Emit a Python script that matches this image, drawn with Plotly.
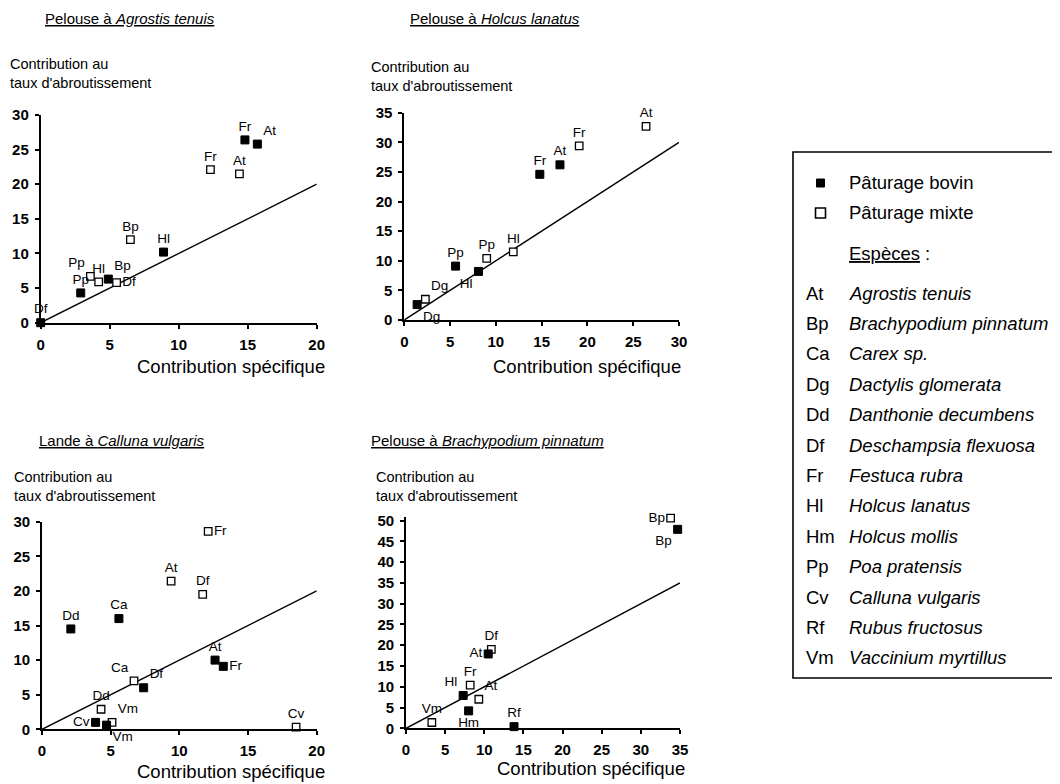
import plotly.graph_objects as go

# The page body adds an 8 px margin, so the figure is drawn 8 px in from the
# window's top-left corner; sizes and positions below account for it.
WIN_W, WIN_H = 1060, 784
OFF = 8
W, H = WIN_W - OFF, WIN_H - OFF

# ---------------- Data ----------------
# Panel 1: Pelouse à Agrostis tenuis
p1_bovin_codes = ["Fr", "At", "Hl", "Bp", "Pp", "Df"]
p1_bovin_x = [14.8, 15.7, 8.9, 4.9, 2.9, 0.0]
p1_bovin_y = [26.4, 25.8, 10.2, 6.3, 4.3, 0.0]
p1_mixte_codes = ["Fr", "At", "Bp", "Pp", "Hl", "Df"]
p1_mixte_x = [12.3, 14.4, 6.5, 3.6, 4.2, 5.5]
p1_mixte_y = [22.1, 21.5, 12.0, 6.7, 5.9, 5.8]

# Panel 2: Pelouse à Holcus lanatus
p2_bovin_codes = ["Fr", "At", "Pp", "Hl", "Dg"]
p2_bovin_x = [14.8, 17.0, 5.6, 8.1, 1.4]
p2_bovin_y = [24.6, 26.2, 9.1, 8.2, 2.6]
p2_mixte_codes = ["At", "Fr", "Hl", "Pp", "Dg"]
p2_mixte_x = [26.4, 19.1, 11.9, 9.0, 2.3]
p2_mixte_y = [32.7, 29.4, 11.5, 10.4, 3.5]

# Panel 3: Lande à Calluna vulgaris
p3_bovin_codes = ["Dd", "Ca", "At", "Fr", "Df", "Cv", "Vm"]
p3_bovin_x = [2.1, 5.6, 12.6, 13.2, 7.4, 3.9, 4.7]
p3_bovin_y = [14.5, 16.0, 10.0, 9.1, 6.0, 1.0, 0.6]
p3_mixte_codes = ["Fr", "At", "Df", "Ca", "Dd", "Vm", "Cv"]
p3_mixte_x = [12.1, 9.4, 11.7, 6.7, 4.3, 5.1, 18.5]
p3_mixte_y = [28.6, 21.4, 19.5, 7.0, 2.9, 1.0, 0.3]

# Panel 4: Pelouse à Brachypodium pinnatum
p4_bovin_codes = ["Bp", "At", "Hl", "Hm", "Rf"]
p4_bovin_x = [34.7, 10.5, 7.3, 8.0, 13.8]
p4_bovin_y = [47.9, 17.9, 7.9, 4.2, 0.4]
p4_mixte_codes = ["Bp", "Df", "Fr", "At", "Vm"]
p4_mixte_x = [33.8, 10.9, 8.2, 9.3, 3.3]
p4_mixte_y = [50.6, 19.0, 10.4, 7.0, 1.4]

# 1:1 reference lines (end point of each diagonal)
p1_line_end = 20
p2_line_end = 30
p3_line_end = 20
p4_line_end = 35

panel_titles = [
    "<u>Pelouse à <i>Agrostis tenuis</i></u>",
    "<u>Pelouse à <i>Holcus lanatus</i></u>",
    "<u>Lande à <i>Calluna vulgaris</i></u>",
    "<u>Pelouse à <i>Brachypodium pinnatum</i></u>",
]
y_title = "Contribution au<br>taux d'abroutissement"
x_title = "Contribution spécifique"

legend_groups = ["Pâturage bovin", "Pâturage mixte"]
species_header = "<u>Espèces</u> :"
species_codes = ["At", "Bp", "Ca", "Dg", "Dd", "Df", "Fr", "Hl", "Hm", "Pp", "Cv", "Rf", "Vm"]
species_names = ["Agrostis tenuis", "Brachypodium pinnatum", "Carex sp.", "Dactylis glomerata",
                 "Danthonie decumbens", "Deschampsia flexuosa", "Festuca rubra", "Holcus lanatus",
                 "Holcus mollis", "Poa pratensis", "Calluna vulgaris", "Rubus fructosus",
                 "Vaccinium myrtillus"]

# ---------------- Styles / layout ----------------
FONT = "Liberation Sans, Arial, sans-serif"
BG = "white"

p1_bovin_pos = ["top center", "top right", "top center", "top right", "top center", "top center"]
p1_mixte_pos = ["top center", "top center", "top center", "top left", "top center", "middle right"]
p2_bovin_pos = ["top center", "top center", "top center", "bottom left", "bottom right"]
p2_mixte_pos = ["top center", "top center", "top center", "top center", "top right"]
p3_bovin_pos = ["top center", "top center", "top center", "middle right", "top right", "middle left", "bottom right"]
p3_mixte_pos = ["middle right", "top center", "top center", "top left", "top center", "top right", "top center"]
p4_bovin_pos = ["bottom left", "middle left", "top left", "bottom center", "top center"]
p4_mixte_pos = ["middle left", "top center", "top center", "top right", "top center"]


def px_x(p):
    """window pixel x -> paper fraction"""
    return (p - OFF) / W


def px_y(p):
    """window pixel y (from top) -> paper fraction"""
    return 1 - (p - OFF) / H


# xd: window pixel x of range start/end; yd: window pixel y of range start/end
panels = [
    dict(ax="", xr=[0, 20], yr=[0, 30], xd=[40.7, 316.7], yd=[322.7, 115.0],
         bc=p1_bovin_codes, bx=p1_bovin_x, by=p1_bovin_y, bp=p1_bovin_pos,
         mc=p1_mixte_codes, mx=p1_mixte_x, my=p1_mixte_y, mp=p1_mixte_pos, le=p1_line_end),
    dict(ax="2", xr=[0, 30], yr=[0, 35], xd=[404.3, 679.0], yd=[320.0, 112.7],
         bc=p2_bovin_codes, bx=p2_bovin_x, by=p2_bovin_y, bp=p2_bovin_pos,
         mc=p2_mixte_codes, mx=p2_mixte_x, my=p2_mixte_y, mp=p2_mixte_pos, le=p2_line_end),
    dict(ax="3", xr=[0, 20], yr=[0, 30], xd=[42.0, 316.7], yd=[729.3, 521.7],
         bc=p3_bovin_codes, bx=p3_bovin_x, by=p3_bovin_y, bp=p3_bovin_pos,
         mc=p3_mixte_codes, mx=p3_mixte_x, my=p3_mixte_y, mp=p3_mixte_pos, le=p3_line_end),
    dict(ax="4", xr=[0, 35], yr=[0, 51], xd=[406.0, 680.0], yd=[728.3, 516.5],
         bc=p4_bovin_codes, bx=p4_bovin_x, by=p4_bovin_y, bp=p4_bovin_pos,
         mc=p4_mixte_codes, mx=p4_mixte_x, my=p4_mixte_y, mp=p4_mixte_pos, le=p4_line_end),
]

fig = go.Figure()
layout_axes = {}

for p in panels:
    xa = "x" + p["ax"]
    ya = "y" + p["ax"]
    # diagonal 1:1 line
    fig.add_trace(go.Scatter(x=[0, p["le"]], y=[0, p["le"]], mode="lines",
                             line=dict(color="black", width=1.4),
                             xaxis=xa, yaxis=ya, showlegend=False, hoverinfo="skip",
                             cliponaxis=False))
    # mixte (open squares)
    fig.add_trace(go.Scatter(x=p["mx"], y=p["my"], text=p["mc"], mode="markers+text",
                             textposition=p["mp"],
                             textfont=dict(family=FONT, size=13.5, color="black"),
                             marker=dict(symbol="square", size=7.5, color=BG,
                                         line=dict(color="black", width=1.3)),
                             xaxis=xa, yaxis=ya, showlegend=False, cliponaxis=False,
                             name=legend_groups[1]))
    # bovin (filled squares)
    fig.add_trace(go.Scatter(x=p["bx"], y=p["by"], text=p["bc"], mode="markers+text",
                             textposition=p["bp"],
                             textfont=dict(family=FONT, size=13.5, color="black"),
                             marker=dict(symbol="square", size=8, color="black",
                                         line=dict(color="black", width=1)),
                             xaxis=xa, yaxis=ya, showlegend=False, cliponaxis=False,
                             name=legend_groups[0]))

    axis_common = dict(showline=True, linecolor="black", linewidth=1.8,
                       ticks="outside", ticklen=4, tickwidth=1.5, tickcolor="black",
                       showgrid=False, zeroline=False, dtick=5, tick0=0,
                       tickfont=dict(family=FONT, size=15, color="black", weight="bold"),
                       ticklabelstandoff=3, fixedrange=True, automargin=False)
    xname = "xaxis" + p["ax"]
    yname = "yaxis" + p["ax"]
    layout_axes[xname] = dict(axis_common, range=p["xr"],
                              domain=[px_x(p["xd"][0]), px_x(p["xd"][1])],
                              anchor=ya)
    layout_axes[yname] = dict(axis_common, range=p["yr"],
                              domain=[px_y(p["yd"][0]), px_y(p["yd"][1])],
                              anchor=xa)

fig.update_layout(**layout_axes)

annotations = []
# panel titles
title_pos = [(130, 19), (495, 19), (122, 440), (487, 440)]
for t, (cx, cy) in zip(panel_titles, title_pos):
    annotations.append(dict(text=t, x=px_x(cx), y=px_y(cy), xref="paper", yref="paper",
                            xanchor="center", yanchor="middle", showarrow=False,
                            font=dict(family=FONT, size=15, color="black")))
# y titles
ytitle_pos = [(8, 73), (369, 76), (12, 486), (374, 486)]
for (lx, cy) in ytitle_pos:
    annotations.append(dict(text=y_title, x=px_x(lx), y=px_y(cy), xref="paper", yref="paper",
                            xanchor="left", yanchor="middle", showarrow=False, align="left",
                            font=dict(family=FONT, size=14.5, color="black")))
# x titles
xtitle_pos = [(327, 366), (683, 366), (327, 771), (687, 768)]
for (rx, cy) in xtitle_pos:
    annotations.append(dict(text=x_title, x=px_x(rx), y=px_y(cy), xref="paper", yref="paper",
                            xanchor="right", yanchor="middle", showarrow=False,
                            font=dict(family=FONT, size=18.5, color="black")))

# legend box content
legend_text_x = 847
legend_rows_y = [183, 213]
for txt, yy in zip(legend_groups, legend_rows_y):
    annotations.append(dict(text=txt, x=px_x(legend_text_x), y=px_y(yy), xref="paper", yref="paper",
                            xanchor="left", yanchor="middle", showarrow=False,
                            font=dict(family=FONT, size=18.5, color="black")))
annotations.append(dict(text=species_header, x=px_x(legend_text_x), y=px_y(253), xref="paper",
                        yref="paper", xanchor="left", yanchor="middle", showarrow=False,
                        font=dict(family=FONT, size=18.5, color="black")))
row0, row_step = 293, 30.4
for i, (c, n) in enumerate(zip(species_codes, species_names)):
    yy = row0 + i * row_step
    annotations.append(dict(text=c, x=px_x(804), y=px_y(yy), xref="paper", yref="paper",
                            xanchor="left", yanchor="middle", showarrow=False,
                            font=dict(family=FONT, size=18.5, color="black")))
    annotations.append(dict(text="<i>" + n + "</i>", x=px_x(legend_text_x), y=px_y(yy),
                            xref="paper", yref="paper", xanchor="left", yanchor="middle",
                            showarrow=False, font=dict(family=FONT, size=18.5, color="black")))

shapes = [
    # legend frame (its right side runs off the page, as in the scan)
    dict(type="rect", xref="paper", yref="paper", x0=px_x(793), x1=px_x(1066),
         y0=px_y(678), y1=px_y(152), line=dict(color="black", width=1.6),
         fillcolor="rgba(0,0,0,0)"),
    # legend symbols
    dict(type="rect", xref="paper", yref="paper", x0=px_x(816.5), x1=px_x(824.5),
         y0=px_y(187), y1=px_y(179), line=dict(color="black", width=1), fillcolor="black"),
    dict(type="rect", xref="paper", yref="paper", x0=px_x(815.5), x1=px_x(825.5),
         y0=px_y(218), y1=px_y(208), line=dict(color="black", width=1.6), fillcolor=BG),
]

fig.update_layout(
    width=W, height=H,
    margin=dict(l=0, r=0, t=0, b=0, pad=0, autoexpand=False),
    paper_bgcolor=BG, plot_bgcolor=BG,
    showlegend=False,
    annotations=annotations,
    shapes=shapes,
    font=dict(family=FONT, color="black"),
)

fig.write_html("out.html")
